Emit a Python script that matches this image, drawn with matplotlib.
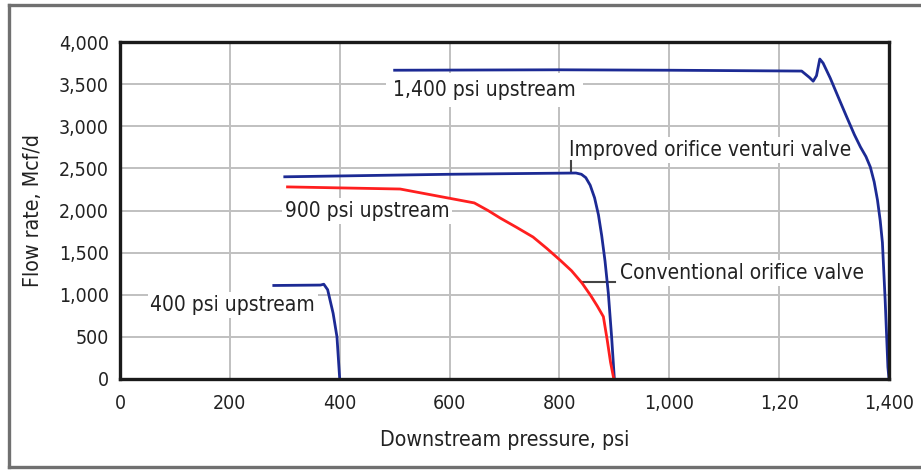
import matplotlib
matplotlib.use("Agg")
import matplotlib.pyplot as plt
from matplotlib.lines import Line2D

plt.rcParams['font.family'] = ['DejaVu Sans']
plt.rcParams['font.stretch'] = 'condensed'

p400_x = [280, 365, 371, 378, 388, 395, 398, 400]
p400_y = [1110, 1115, 1125, 1060, 780, 500, 200, 0]

venturi900_x = [300, 450, 600, 750, 830, 840, 848, 856, 864, 871, 877, 883, 889, 895, 900]
venturi900_y = [2400, 2415, 2430, 2440, 2445, 2430, 2390, 2300, 2150, 1950, 1700, 1400, 1020, 500, 0]

conv900_x = [305, 510, 645, 670, 692, 722, 752, 777, 801, 822, 841, 857, 869, 880, 887, 893, 899]
conv900_y = [2280, 2255, 2090, 2000, 1911, 1800, 1685, 1550, 1412, 1285, 1140, 990, 865, 740, 463, 200, 0]

p1400_x = [500, 800, 1000, 1241, 1255, 1262, 1268, 1274, 1280, 1293, 1308, 1323, 1337,
           1348, 1358, 1366, 1373, 1379, 1384, 1388, 1393, 1398, 1400]
p1400_y = [3665, 3670, 3665, 3655, 3580, 3535, 3600, 3798, 3750, 3572, 3340, 3110, 2900,
           2754, 2640, 2516, 2340, 2125, 1880, 1620, 938, 142, 0]

x_ticks = [0, 200, 400, 600, 800, 1000, 1200, 1400]
x_tick_labels = ['0', '200', '400', '600', '800', '1,000', '1,20', '1,400']
y_ticks = [0, 500, 1000, 1500, 2000, 2500, 3000, 3500, 4000]
y_tick_labels = ['0', '500', '1,000', '1,500', '2,000', '2,500', '3,000', '3,500', '4,000']

BLUE = '#1c2a94'
RED = '#ff1f1f'
TXT = '#222222'
FS = 14
FS_NOTE = 15
FS_AXIS = 15.3

fig = plt.figure(figsize=(9.21, 4.71), dpi=100)
ax = fig.add_axes([120 / 921, 92 / 471, 769 / 921, 337 / 471])

# outer frame of the figure panel
frame_kw = dict(color='#707070', lw=2.4, transform=fig.transFigure, clip_on=False)
fig.add_artist(Line2D([9 / 921, 9 / 921], [4 / 471, 466 / 471], **frame_kw))
fig.add_artist(Line2D([9 / 921, 1.0], [466 / 471, 466 / 471], **frame_kw))
fig.add_artist(Line2D([9 / 921, 1.0], [4 / 471, 4 / 471], **frame_kw))

ax.plot(p400_x, p400_y, color=BLUE, lw=2, zorder=5)
ax.plot(venturi900_x, venturi900_y, color=BLUE, lw=2, zorder=5)
ax.plot(conv900_x, conv900_y, color=RED, lw=2, zorder=5)
ax.plot(p1400_x, p1400_y, color=BLUE, lw=2, zorder=5)

ax.set_xlim(0, 1400)
ax.set_ylim(0, 4000)
ax.set_xticks(x_ticks)
ax.set_xticklabels(x_tick_labels)
ax.set_yticks(y_ticks)
ax.set_yticklabels(y_tick_labels)
ax.tick_params(length=0, labelsize=FS, colors=TXT)
ax.tick_params(axis='x', pad=11)
ax.tick_params(axis='y', pad=8)
ax.grid(True, color='#c0c0c0', lw=1.4)
ax.set_axisbelow(True)
for s in ax.spines.values():
    s.set_linewidth(2.4)
    s.set_color('#1a1a1a')
    s.set_zorder(6)

ax.set_xlabel('Downstream pressure, psi', fontsize=FS_AXIS, color=TXT)
ax.set_ylabel('Flow rate, Mcf/d', fontsize=FS_AXIS, color=TXT)
ax.xaxis.set_label_coords(0.5, -0.150)
ax.yaxis.set_label_coords(-0.100, 0.5)

box = dict(facecolor='white', edgecolor='none', pad=2)
ax.text(497, 3430, '1,400 psi upstream', fontsize=FS_NOTE, va='center', ha='left',
        bbox=dict(facecolor='white', edgecolor='none', pad=5), zorder=3, color=TXT)
ax.text(300, 1994, '900 psi upstream', fontsize=FS_NOTE, va='center', ha='left',
        bbox=box, zorder=3, color=TXT)
ax.text(55, 880, '400 psi upstream', fontsize=FS_NOTE, va='center', ha='left',
        bbox=box, zorder=3, color=TXT)
ax.text(817, 2718, 'Improved orifice venturi valve', fontsize=FS_NOTE, va='center', ha='left',
        bbox=box, zorder=3, color=TXT)
ax.text(910, 1258, 'Conventional orifice valve', fontsize=FS_NOTE, va='center', ha='left',
        bbox=box, zorder=3, color=TXT)

# leader lines
ax.plot([821, 821], [2460, 2585], color='#444444', lw=1.5, zorder=4)
ax.plot([841, 902], [1151, 1151], color='#444444', lw=1.5, zorder=4)

fig.savefig('out.png', dpi=100)
